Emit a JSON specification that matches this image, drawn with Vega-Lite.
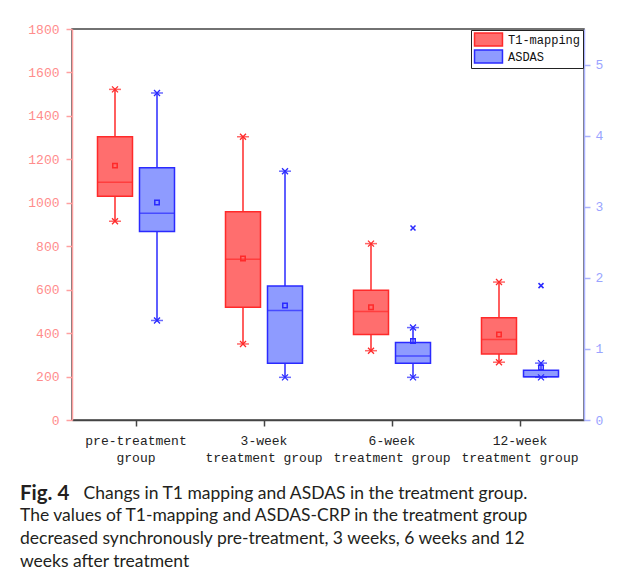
{
  "$schema": "https://vega.github.io/schema/vega-lite/v6.json",
  "width": 512,
  "height": 391,
  "padding": {"left": 20, "top": 23, "right": 10, "bottom": 10},
  "background": "white",
  "datasets": {
    "boxes": [
      {"group": "pre-treatment group", "series": "T1-mapping", "min": 915, "q1": 1030, "median": 1094, "q3": 1304, "max": 1522, "mean": 1171},
      {"group": "pre-treatment group", "series": "ASDAS", "min": 1.40, "q1": 2.65, "median": 2.91, "q3": 3.55, "max": 4.60, "mean": 3.06},
      {"group": "3-week treatment group", "series": "T1-mapping", "min": 350, "q1": 519, "median": 740, "q3": 959, "max": 1304, "mean": 743},
      {"group": "3-week treatment group", "series": "ASDAS", "min": 0.60, "q1": 0.80, "median": 1.54, "q3": 1.885, "max": 3.50, "mean": 1.61},
      {"group": "6-week treatment group", "series": "T1-mapping", "min": 319, "q1": 394, "median": 500, "q3": 597, "max": 812, "mean": 519},
      {"group": "6-week treatment group", "series": "ASDAS", "min": 0.60, "q1": 0.80, "median": 0.90, "q3": 1.09, "max": 1.30, "mean": 1.11},
      {"group": "12-week treatment group", "series": "T1-mapping", "min": 266, "q1": 304, "median": 371, "q3": 471, "max": 635, "mean": 394},
      {"group": "12-week treatment group", "series": "ASDAS", "min": 0.60, "q1": 0.61, "median": 0.61, "q3": 0.70, "max": 0.80, "mean": 0.74}
    ],
    "outliers": [
      {"group": "6-week treatment group", "series": "ASDAS", "value": 2.70},
      {"group": "12-week treatment group", "series": "ASDAS", "value": 1.89}
    ]
  },
  "title": {
    "text": "Fig. 4",
    "subtitle": [
      "The values of T1-mapping and ASDAS-CRP in the treatment group",
      "decreased synchronously pre-treatment, 3 weeks, 6 weeks and 12",
      "weeks after treatment"
    ],
    "orient": "bottom",
    "anchor": "start",
    "frame": "bounds",
    "font": "Lato",
    "fontSize": 20.5,
    "fontWeight": "bold",
    "color": "#231F20",
    "subtitleFont": "Lato",
    "subtitleFontSize": 17.5,
    "subtitleColor": "#231F20",
    "subtitleLineHeight": 22.8,
    "subtitlePadding": 2.4,
    "offset": -17.4
  },
  "encoding": {
    "x": {
      "field": "group",
      "type": "nominal",
      "sort": ["pre-treatment group", "3-week treatment group", "6-week treatment group", "12-week treatment group"],
      "scale": {"paddingInner": 0, "paddingOuter": 0},
      "title": "Changs in T1 mapping and ASDAS in the treatment group.",
      "axis": {
        "labelAngle": 0,
        "labelFont": "Liberation Mono",
        "labelFontSize": 13,
        "labelColor": "#222222",
        "labelLineHeight": 17,
        "labelPadding": 8,
        "labelExpr": "[substring(datum.label, 0, indexof(datum.label, ' ')), substring(datum.label, indexof(datum.label, ' ') + 1)]",
        "domainColor": "#444444",
        "domainWidth": 1.5,
        "tickColor": "#444444",
        "tickWidth": 1.5,
        "tickSize": 6,
        "titleFont": "Lato",
        "titleFontSize": 17.5,
        "titleFontWeight": "normal",
        "titleColor": "#231F20",
        "titleAlign": "left",
        "titleAnchor": "start",
        "titleX": 11,
        "titlePadding": 20
      }
    },
    "xOffset": {
      "field": "series",
      "type": "nominal",
      "scale": {"domain": ["T1-mapping", "ASDAS"], "paddingInner": 0.1667, "paddingOuter": 0.607}
    }
  },
  "layer": [
    {
      "data": {"name": "boxes"},
      "transform": [{"filter": "datum.series === 'T1-mapping'"}],
      "layer": [
        {
          "mark": {"type": "rule", "color": "#FF2A2A", "strokeWidth": 1.5},
          "encoding": {
            "y": {
              "field": "min", "type": "quantitative", "title": null,
              "scale": {"domain": [0, 1800], "nice": false},
              "axis": {
                "values": [0, 100, 200, 300, 400, 500, 600, 700, 800, 900, 1000, 1100, 1200, 1300, 1400, 1500, 1600, 1700, 1800],
                "labelExpr": "datum.value % 200 === 0 ? datum.label : ''",
                "format": "d",
                "grid": false,
                "labelFont": "Liberation Mono",
                "labelFontSize": 13,
                "labelColor": "#FF8C8C",
                "labelPadding": 7,
                "domainColor": "#FFA0A0",
                "domainWidth": 1.5,
                "tickColor": "#FFA0A0",
                "tickWidth": 1.5,
                "tickSize": {"condition": {"test": "datum.value % 200 !== 0", "value": 3}, "value": 6},
                "minExtent": 52
              }
            },
            "y2": {"field": "max"}
          }
        },
        {
          "mark": {"type": "bar", "strokeWidth": 1.5},
          "encoding": {
            "y": {"field": "q1", "type": "quantitative", "title": null, "scale": {"domain": [0, 1800], "nice": false}},
            "y2": {"field": "q3"},
            "fill": {
              "field": "series", "type": "nominal",
              "scale": {"domain": ["T1-mapping", "ASDAS"], "range": ["#FF6E6E", "#8E9BFF"]},
              "legend": {"title": null}
            },
            "stroke": {
              "field": "series", "type": "nominal",
              "scale": {"domain": ["T1-mapping", "ASDAS"], "range": ["#FF2A2A", "#2A2AFF"]},
              "legend": {"title": null}
            }
          }
        },
        {
          "mark": {"type": "tick", "color": "#FF2A2A", "thickness": 1.5, "size": 35},
          "encoding": {"y": {"field": "median", "type": "quantitative", "title": null, "scale": {"domain": [0, 1800], "nice": false}}}
        },
        {
          "mark": {"type": "tick", "color": "#FF2A2A", "thickness": 1.5, "size": 12},
          "encoding": {"y": {"field": "min", "type": "quantitative", "title": null, "scale": {"domain": [0, 1800], "nice": false}}}
        },
        {
          "mark": {"type": "tick", "color": "#FF2A2A", "thickness": 1.5, "size": 12},
          "encoding": {"y": {"field": "max", "type": "quantitative", "title": null, "scale": {"domain": [0, 1800], "nice": false}}}
        },
        {
          "mark": {"type": "point", "shape": "M-1,-1L1,1M-1,1L1,-1", "filled": false, "color": "#FF2A2A", "strokeWidth": 1.3, "size": 36, "opacity": 1},
          "encoding": {"y": {"field": "min", "type": "quantitative", "title": null, "scale": {"domain": [0, 1800], "nice": false}}}
        },
        {
          "mark": {"type": "point", "shape": "M-1,-1L1,1M-1,1L1,-1", "filled": false, "color": "#FF2A2A", "strokeWidth": 1.3, "size": 36, "opacity": 1},
          "encoding": {"y": {"field": "max", "type": "quantitative", "title": null, "scale": {"domain": [0, 1800], "nice": false}}}
        },
        {
          "mark": {"type": "point", "shape": "square", "filled": false, "color": "#FF2A2A", "strokeWidth": 1.5, "size": 20, "opacity": 1},
          "encoding": {"y": {"field": "mean", "type": "quantitative", "title": null, "scale": {"domain": [0, 1800], "nice": false}}}
        }
      ]
    },
    {
      "data": {"name": "boxes"},
      "transform": [{"filter": "datum.series === 'ASDAS'"}],
      "layer": [
        {
          "mark": {"type": "rule", "color": "#2A2AFF", "strokeWidth": 1.5},
          "encoding": {
            "y": {
              "field": "min", "type": "quantitative", "title": null,
              "scale": {"domain": [0, 5.5], "nice": false},
              "axis": {
                "orient": "right",
                "values": [0, 0.5, 1, 1.5, 2, 2.5, 3, 3.5, 4, 4.5, 5],
                "labelExpr": "datum.value % 1 === 0 ? format(datum.value, 'd') : ''",
                "grid": false,
                "labelFont": "Liberation Mono",
                "labelFontSize": 13,
                "labelColor": "#9AA4FF",
                "labelPadding": 5,
                "domainColor": "#AAB2FF",
                "domainWidth": 1.5,
                "tickColor": "#AAB2FF",
                "tickWidth": 1.5,
                "tickSize": {"condition": {"test": "datum.value % 1 !== 0", "value": 3}, "value": 6}
              }
            },
            "y2": {"field": "max"}
          }
        },
        {
          "mark": {"type": "bar", "strokeWidth": 1.5},
          "encoding": {
            "y": {"field": "q1", "type": "quantitative", "title": null, "scale": {"domain": [0, 5.5], "nice": false}},
            "y2": {"field": "q3"},
            "fill": {"field": "series", "type": "nominal", "legend": {"title": null}},
            "stroke": {"field": "series", "type": "nominal", "legend": {"title": null}}
          }
        },
        {
          "mark": {"type": "tick", "color": "#2A2AFF", "thickness": 1.5, "size": 35},
          "encoding": {"y": {"field": "median", "type": "quantitative", "title": null, "scale": {"domain": [0, 5.5], "nice": false}}}
        },
        {
          "mark": {"type": "tick", "color": "#2A2AFF", "thickness": 1.5, "size": 12},
          "encoding": {"y": {"field": "min", "type": "quantitative", "title": null, "scale": {"domain": [0, 5.5], "nice": false}}}
        },
        {
          "mark": {"type": "tick", "color": "#2A2AFF", "thickness": 1.5, "size": 12},
          "encoding": {"y": {"field": "max", "type": "quantitative", "title": null, "scale": {"domain": [0, 5.5], "nice": false}}}
        },
        {
          "mark": {"type": "point", "shape": "M-1,-1L1,1M-1,1L1,-1", "filled": false, "color": "#2A2AFF", "strokeWidth": 1.3, "size": 36, "opacity": 1},
          "encoding": {"y": {"field": "min", "type": "quantitative", "title": null, "scale": {"domain": [0, 5.5], "nice": false}}}
        },
        {
          "mark": {"type": "point", "shape": "M-1,-1L1,1M-1,1L1,-1", "filled": false, "color": "#2A2AFF", "strokeWidth": 1.3, "size": 36, "opacity": 1},
          "encoding": {"y": {"field": "max", "type": "quantitative", "title": null, "scale": {"domain": [0, 5.5], "nice": false}}}
        },
        {
          "mark": {"type": "point", "shape": "square", "filled": false, "color": "#2A2AFF", "strokeWidth": 1.5, "size": 20, "opacity": 1},
          "encoding": {"y": {"field": "mean", "type": "quantitative", "title": null, "scale": {"domain": [0, 5.5], "nice": false}}}
        },
        {
          "data": {"name": "outliers"},
          "mark": {"type": "point", "shape": "M-1,-1L1,1M-1,1L1,-1", "filled": false, "color": "#2A2AFF", "strokeWidth": 1.5, "size": 25, "opacity": 1},
          "encoding": {"y": {"field": "value", "type": "quantitative", "title": null, "scale": {"domain": [0, 5.5], "nice": false}}}
        }
      ]
    }
  ],
  "resolve": {"scale": {"y": "independent"}},
  "config": {
    "view": {"stroke": "#444444", "strokeWidth": 1.5},
    "legend": {
      "orient": "top-right",
      "offset": 1,
      "padding": 2,
      "strokeColor": "#222222",
      "fillColor": "white",
      "symbolType": "M-2.15,-1H2.15V1H-2.15Z",
      "symbolSize": 169,
      "symbolOffset": 8,
      "symbolStrokeWidth": 1.5,
      "symbolOpacity": 1,
      "labelFont": "Liberation Mono",
      "labelFontSize": 12,
      "labelColor": "#111111",
      "labelOffset": 12,
      "rowPadding": -2
    }
  }
}
